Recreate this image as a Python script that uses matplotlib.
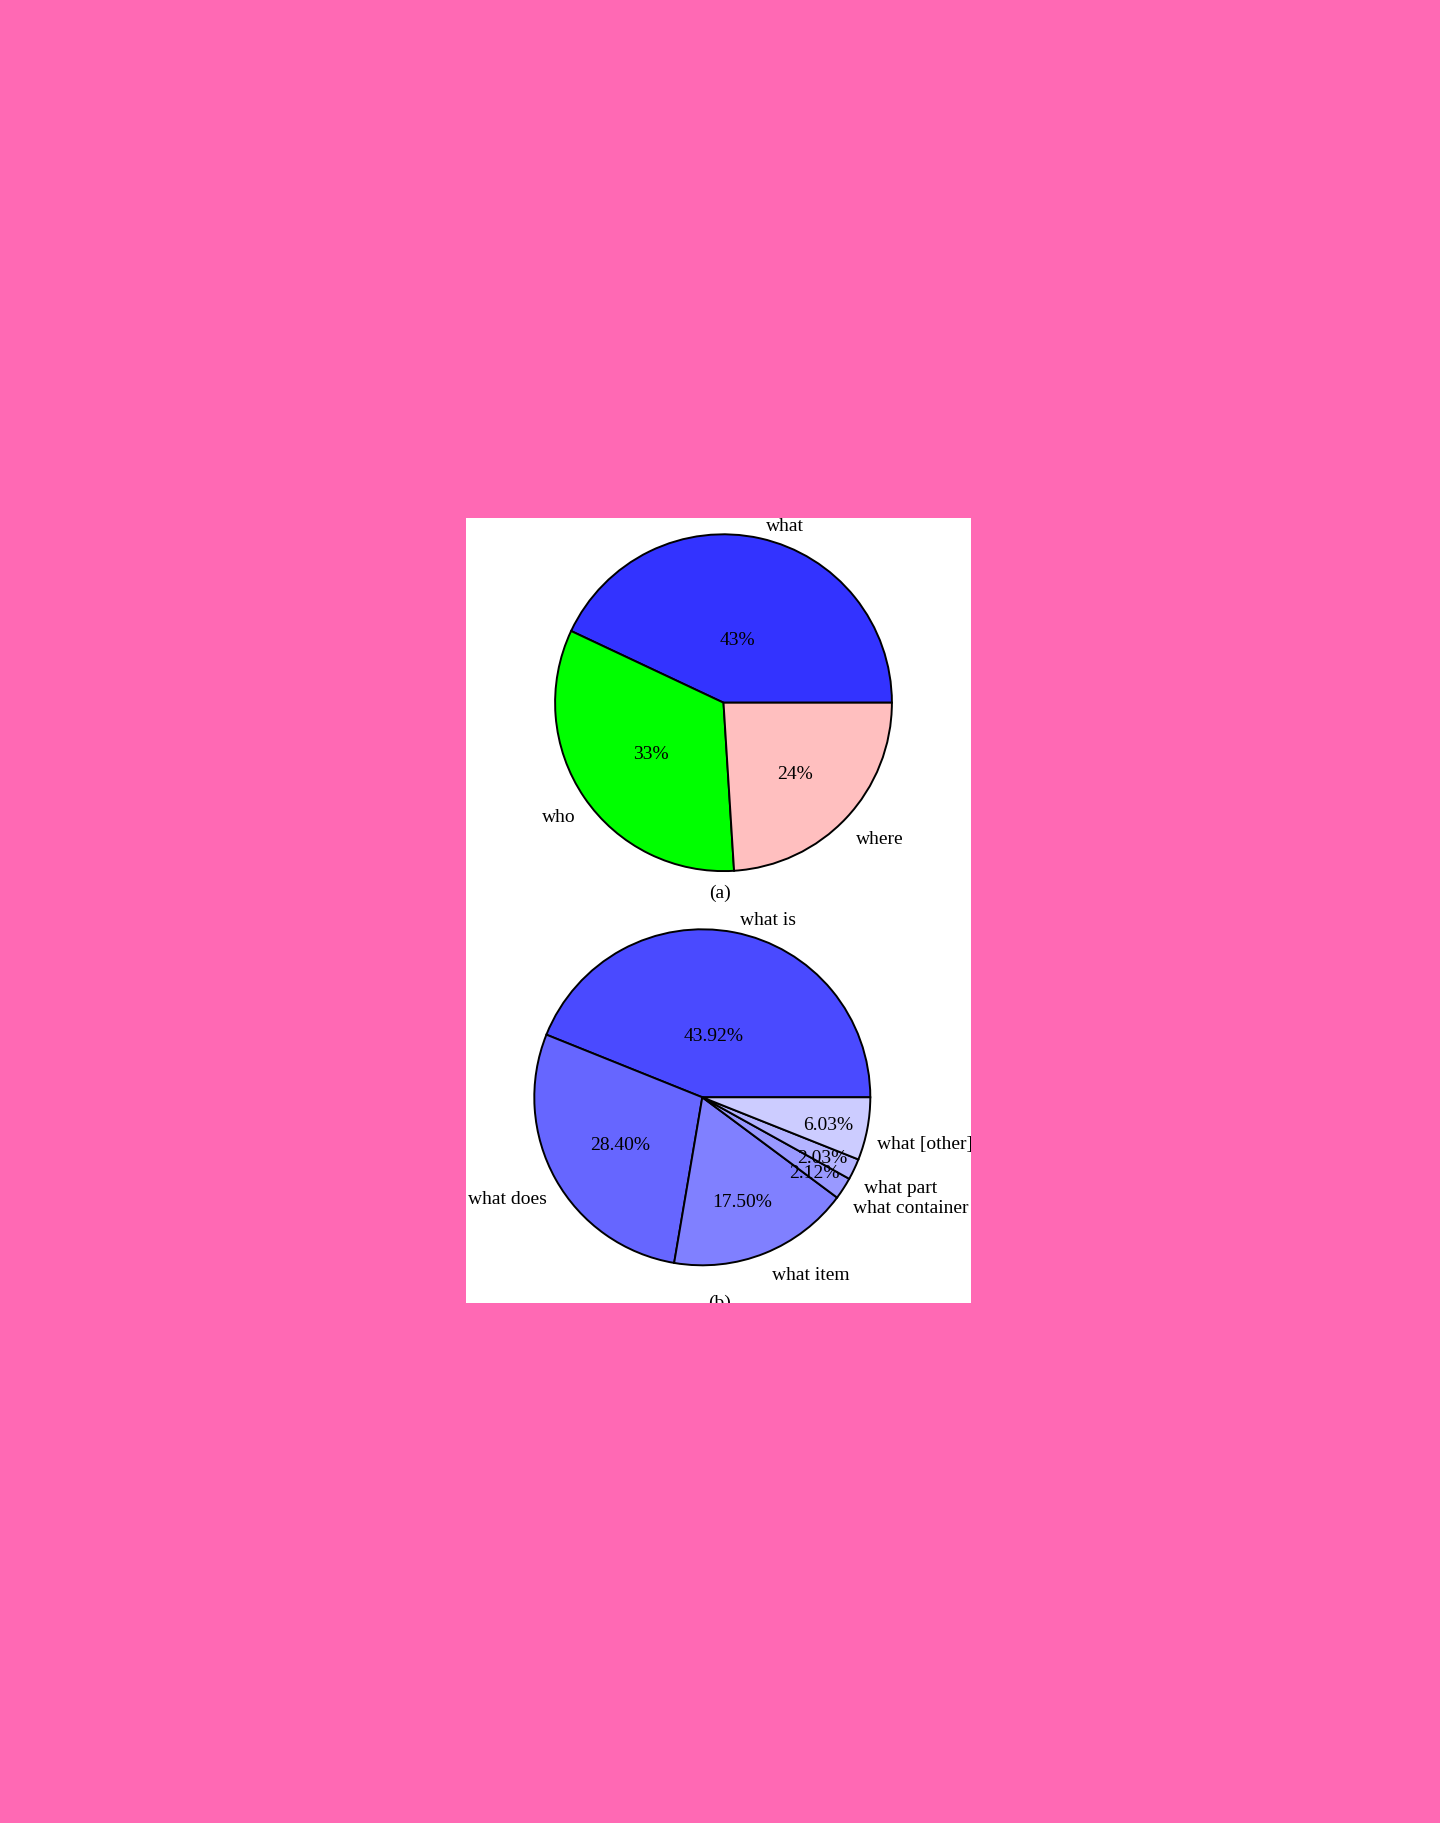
import numpy as np
import matplotlib.pyplot as plt
from matplotlib.patches import Rectangle

# pie (a): question word
labels_a = ["what", "who", "where"]
values_a = [43, 33, 24]
colors_a = ["#3333ff", "#00ff00", "#ffbfbf"]

# pie (b): breakdown of "what" questions
labels_b = ["what is", "what does", "what item", "what container", "what part", "what [other]"]
values_b = [43.92, 28.40, 17.50, 2.12, 2.03, 6.03]
colors_b = ["#4a4aff", "#6666ff", "#8080ff", "#9999ff", "#b3b3ff", "#ccccff"]

# how far from the centre each percent label sits (fraction of radius)
pct_dist_a = [0.40, 0.51, 0.59]
pct_dist_b = [0.39, 0.55, 0.655, 0.80, 0.80, 0.77]

W, H = 1440, 1824
plt.rcParams['font.family'] = ['Liberation Serif', 'DejaVu Serif']

fig = plt.figure(figsize=(W / 100, H / 100), dpi=100)
fig.patch.set_facecolor("#ff69b4")

# white page region
panel = Rectangle((466 / W, 1 - 1304 / H), 505 / W, 785 / H,
                  transform=fig.transFigure, facecolor="white",
                  edgecolor="none", zorder=-5)
fig.patches.append(panel)

LIM = 1.5


def pie_axes(cx, cy, r):
    side = 2 * LIM * r
    ax = fig.add_axes([(cx - side / 2) / W, 1 - (cy + side / 2) / H, side / W, side / H])
    ax.set_zorder(1)
    return ax


def draw_pie(ax, values, labels, colors, fmt, dists):
    wedges, texts, autotexts = ax.pie(
        values, labels=labels, colors=colors, startangle=0, counterclock=True,
        autopct=fmt, labeldistance=1.1,
        wedgeprops=dict(edgecolor="black", linewidth=1.4),
        textprops=dict(fontsize=14, color="black"))
    ax.set_xlim(-LIM, LIM)
    ax.set_ylim(-LIM, LIM)
    ax.set_aspect("equal")
    ax.axis("off")
    for w, lab, pct, d in zip(wedges, texts, autotexts, dists):
        ang = np.deg2rad((w.theta1 + w.theta2) / 2)
        c, s = np.cos(ang), np.sin(ang)
        pct.set_position((d * c - 0.007, d * s - 0.014))
        dx = 0.025 * s * s if c > 0 else 0.0
        lab.set_position((1.06 * c + dx, 1.1 * s - (0.06 * abs(c) + 0.01)))
    for t in list(texts) + list(autotexts):
        t.set_clip_path(panel)
        t.set_clip_on(True)
    return wedges


ax_a = pie_axes(723.5, 703.7, 168.4)
draw_pie(ax_a, values_a, labels_a, colors_a, "%1.0f%%", pct_dist_a)

ax_b = pie_axes(702.3, 1098.3, 168.0)
draw_pie(ax_b, values_b, labels_b, colors_b, "%1.2f%%", pct_dist_b)

cap_a = fig.text(720 / W, 1 - 893 / H, "(a)", ha="center", va="center", fontsize=14)
cap_b = fig.text(720 / W, 1 - 1303 / H, "(b)", ha="center", va="center", fontsize=14)
for c in (cap_a, cap_b):
    c.set_clip_path(panel)
    c.set_clip_on(True)

fig.savefig("out.png", dpi=100, facecolor=fig.get_facecolor())
